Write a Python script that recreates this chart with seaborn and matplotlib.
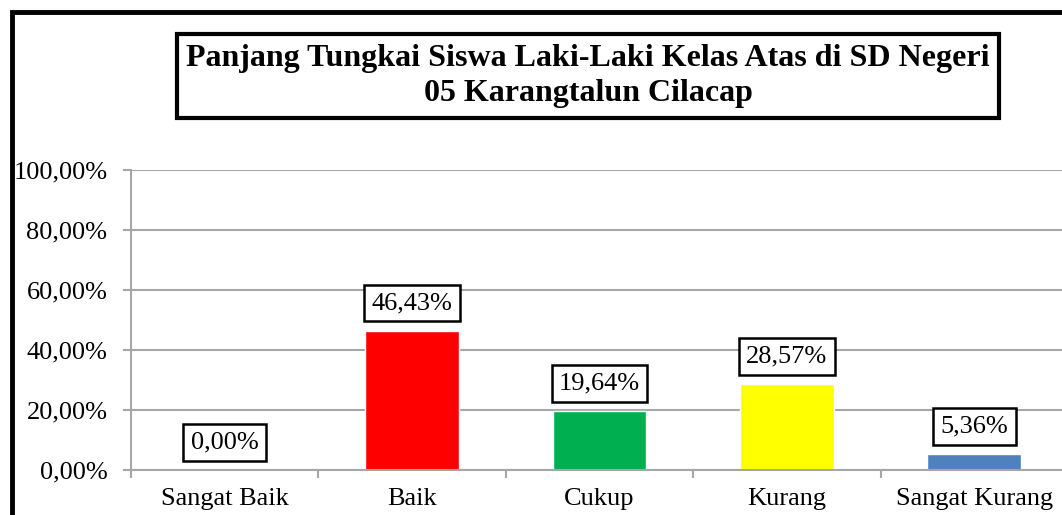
import matplotlib
matplotlib.use("Agg")
import matplotlib.pyplot as plt
import seaborn as sns
import pandas as pd
from matplotlib.patches import Rectangle
from matplotlib.ticker import FuncFormatter, FixedLocator

categories = ["Sangat Baik", "Baik", "Cukup", "Kurang", "Sangat Kurang"]
values = [0.00, 46.43, 19.64, 28.57, 5.36]
colors = ["#FFFFFF", "#FF0000", "#00B050", "#FFFF00", "#4F81BD"]
yticks = [0, 20, 40, 60, 80, 100]
title = "Panjang Tungkai Siswa Laki-Laki Kelas Atas di SD Negeri\n05 Karangtalun Cilacap"

sns.set_theme(style="white")
plt.rcParams["font.family"] = ["Liberation Serif", "DejaVu Serif"]
plt.rcParams["text.color"] = "black"

df = pd.DataFrame({"cat": categories, "val": values})

fig = plt.figure(figsize=(10.62, 5.15), dpi=100)
ax = fig.add_axes([131/1062, 1-470/515, 937/1062, 300/515])

sns.barplot(data=df, x="cat", y="val", hue="cat", palette=colors, order=categories,
            hue_order=categories, width=0.5, legend=False, ax=ax, saturation=1)

ax.set_ylim(0, 100)
ax.set_xlim(-0.5, len(categories) - 0.5)
ax.set_yticks(yticks)
ax.yaxis.set_major_formatter(FuncFormatter(lambda v, p: f"{v:.2f}%".replace(".", ",")))
ax.yaxis.grid(True, color="#A6A6A6", linewidth=1.5)
ax.set_axisbelow(True)
ax.set_xlabel("")
ax.set_ylabel("")

for s in ["top", "right"]:
    ax.spines[s].set_visible(False)
for s in ["left", "bottom"]:
    ax.spines[s].set_color("#A6A6A6")
    ax.spines[s].set_linewidth(1.5)

ax.tick_params(axis="y", which="major", length=6, width=1.5, color="#A6A6A6",
               direction="out", labelsize=19, labelcolor="black", pad=11, left=True)
ax.tick_params(axis="x", which="major", length=0, labelsize=19, labelcolor="black", pad=13)
ax.xaxis.set_minor_locator(FixedLocator([i - 0.5 for i in range(len(categories) + 1)]))
ax.tick_params(axis="x", which="minor", length=6, width=1.5, color="#A6A6A6",
               direction="out", bottom=True)

for i, v in enumerate(values):
    ax.annotate(f"{v:.2f}%".replace(".", ","), xy=(i, v), xytext=(0, 12),
                textcoords="offset points", ha="center", va="bottom", fontsize=19,
                color="black",
                bbox=dict(boxstyle="square,pad=0.28", fc="white", ec="black", lw=1.8))

fig.text(588/1062, 1-76/515, title, ha="center", va="center", fontsize=23,
         fontweight="bold", linespacing=1.3, color="black",
         bbox=dict(boxstyle="square,pad=0.3", fc="white", ec="black", lw=3))

fig.patches.append(Rectangle((12/1062, -0.1), 1.2, 1 - 12/515 + 0.1,
                             transform=fig.transFigure, fill=False, ec="black", lw=3.5))

fig.savefig("out.png", dpi=100)
